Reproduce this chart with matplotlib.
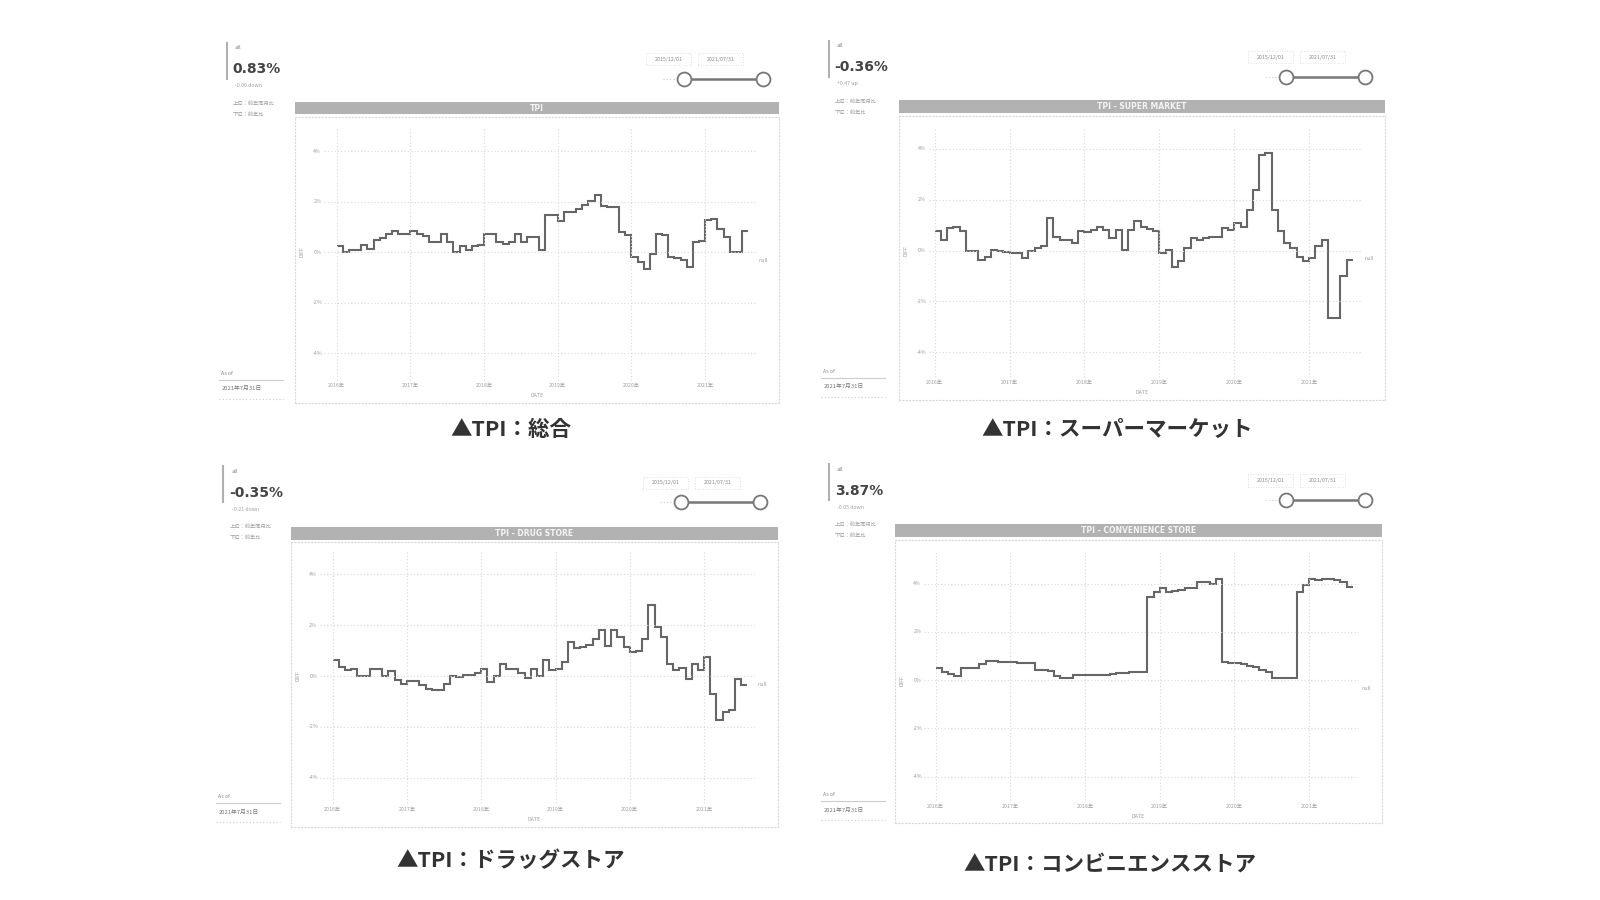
import numpy as np
import matplotlib.pyplot as plt
from matplotlib.lines import Line2D
from matplotlib.patches import Rectangle

plt.rcParams['font.family'] = ['Noto Sans CJK JP', 'DejaVu Sans']

# monthly TPI difference (%), Jan 2016 - Jul 2021
tpi_total = [0.22, 0.00, 0.07, 0.07, 0.26, 0.13, 0.46, 0.57, 0.70, 0.83,
             0.70, 0.72, 0.82, 0.70, 0.62, 0.38, 0.38, 0.72, 0.38, 0.00,
             0.22, 0.07, 0.22, 0.26, 0.70, 0.70, 0.38, 0.33, 0.38, 0.70,
             0.38, 0.59, 0.59, 0.07, 1.47, 1.47, 1.22, 1.58, 1.58, 1.71,
             1.88, 2.04, 2.24, 1.84, 1.78, 1.80, 0.79, 0.66, -0.20, -0.40,
             -0.66, -0.07, 0.72, 0.66, -0.20, -0.25, -0.30, -0.60, 0.39, 0.45,
             1.25, 1.32, 0.92, 0.60, 0.00, 0.00, 0.83]
tpi_super = [0.75, 0.42, 0.88, 0.94, 0.75, 0.00, 0.00, -0.37, -0.24, 0.03,
             0.00, -0.05, -0.08, -0.08, -0.30, 0.00, 0.09, 0.18, 1.27, 0.52,
             0.42, 0.40, 0.29, 0.75, 0.72, 0.82, 0.92, 0.82, 0.48, 0.82,
             0.03, 0.82, 1.15, 0.94, 0.84, 0.75, -0.08, 0.03, -0.63, -0.43,
             0.09, 0.48, 0.42, 0.48, 0.52, 0.55, 0.88, 0.82, 1.10, 0.94,
             1.60, 2.38, 3.76, 3.83, 1.60, 0.75, 0.29, 0.09, -0.24, -0.43,
             -0.30, 0.18, 0.42, -2.66, -2.66, -1.00, -0.36]
tpi_drug = [0.62, 0.35, 0.22, 0.29, 0.00, 0.00, 0.29, 0.29, 0.00, 0.18,
            -0.17, -0.30, -0.20, -0.20, -0.35, -0.50, -0.56, -0.56, -0.30, 0.00,
            -0.05, 0.05, 0.05, 0.10, 0.29, -0.24, 0.00, 0.48, 0.29, 0.29,
            0.10, -0.08, 0.29, 0.00, 0.62, 0.22, 0.29, 0.55, 1.34, 1.10,
            1.14, 1.23, 1.47, 1.80, 1.20, 1.80, 1.53, 1.14, 0.94, 1.00,
            1.47, 2.78, 1.93, 1.53, 0.48, 0.22, 0.30, -0.10, 0.48, 0.22,
            0.75, -0.70, -1.74, -1.42, -1.35, -0.10, -0.35]
tpi_conv = [0.51, 0.34, 0.25, 0.18, 0.51, 0.51, 0.50, 0.65, 0.80, 0.78,
            0.76, 0.76, 0.74, 0.69, 0.69, 0.72, 0.41, 0.41, 0.38, 0.18,
            0.07, 0.07, 0.23, 0.23, 0.23, 0.23, 0.23, 0.23, 0.26, 0.28,
            0.30, 0.32, 0.32, 0.32, 3.45, 3.66, 3.80, 3.66, 3.70, 3.72,
            3.80, 3.80, 4.07, 4.07, 3.98, 4.20, 0.76, 0.70, 0.69, 0.66,
            0.60, 0.53, 0.42, 0.35, 0.07, 0.07, 0.07, 0.07, 3.66, 3.93,
            4.21, 4.17, 4.20, 4.20, 4.17, 4.07, 3.87]

kpi_values = ["0.83%", "-0.36%", "-0.35%", "3.87%"]
kpi_changes = ["-0.06 down", "+0.47 up", "-0.21 down", "-0.05 down"]
chart_titles = ["TPI", "TPI - SUPER MARKET", "TPI - DRUG STORE", "TPI - CONVENIENCE STORE"]
captions = ["▲TPI：総合", "▲TPI：スーパーマーケット", "▲TPI：ドラッグストア", "▲TPI：コンビニエンスストア"]
year_labels = ["2016年", "2017年", "2018年", "2019年", "2020年", "2021年"]
y_ticks = [4, 2, 0, -2, -4]
y_tick_labels = ["4%", "2%", "0%", "-2%", "-4%"]
note_lines = ["上位：前年同月比", "下位：前年比"]
range_dates = ["2015/12/01", "2021/07/31"]
as_of_date = "2021年7月31日"

# layout in reference pixels (1568 x 882)
W, H = 1568, 882
def fx(x): return x / W
def fy(y): return 1 - y / H

panels = [
    dict(series=tpi_total, ox=222, oy=42, box=(289, 115, 763, 395), bar=(100, 112),
         x16=330, x21=691, y4=148, ym4=346, cap=(501, 421)),
    dict(series=tpi_super, ox=812, oy=40, box=(881, 114, 1357, 392), bar=(98, 111),
         x16=916, x21=1283, y4=146, ym4=345, cap=(1095, 421)),
    dict(series=tpi_drug, ox=219, oy=457, box=(285, 531, 762, 810), bar=(516, 529),
         x16=326, x21=690, y4=563, ym4=762, cap=(500, 843)),
    dict(series=tpi_conv, ox=812, oy=455, box=(877, 529, 1354, 807), bar=(514, 526),
         x16=917, x21=1283, y4=572, ym4=761, cap=(1088, 847)),
]

ink = "#666666"
light = "#a0a0a0"
grid = "#d9d9d9"
tiny = 3.8

fig = plt.figure(figsize=(16, 9), dpi=100)
fig.patch.set_facecolor("white")

for i, p in enumerate(panels):
    x0, y0, x1, y1 = p["box"]
    ppm = (p["x21"] - p["x16"]) / 60.0
    ppp = (p["ym4"] - p["y4"]) / 8.0
    yz = p["y4"] + 4 * ppp
    mx = lambda px: (px - p["x16"]) / ppm
    my = lambda py: (yz - py) / ppp

    ax = fig.add_axes([fx(x0), fy(y1), fx(x1) - fx(x0), fy(y0) - fy(y1)])
    ax.set_xlim(mx(x0), mx(x1))
    ax.set_ylim(my(y1), my(y0))
    ax.set_xticks([])
    ax.set_yticks([])
    for s in ax.spines.values():
        s.set_linestyle((0, (1, 2)))
        s.set_color(grid)
        s.set_linewidth(0.8)

    # grid
    ax.hlines(y_ticks, mx(x0 + 29), mx(x1 - 23), colors=grid, linestyles=(0, (1, 2)), lw=0.8)
    ax.vlines(np.arange(6) * 12, my(y1 - 23), my(y0 + 10), colors=grid, linestyles=(0, (1, 2)), lw=0.8)
    for t, lab in zip(y_ticks, y_tick_labels):
        ax.text(mx(x0 + 22), t, lab, fontsize=tiny, color=light, ha="center", va="center")
    for k, lab in enumerate(year_labels):
        ax.text(k * 12, my(y1 - 17), lab, fontsize=tiny, color=light, ha="center", va="center")
    ax.text((mx(x0) + mx(x1)) / 2, my(y1 - 7), "DATE", fontsize=tiny, color=light, ha="center", va="center")
    ax.text(mx(x0 + 7), 0, "DIFF", fontsize=tiny, color=light, ha="center", va="center", rotation=90)
    ax.text(mx(x1 - 15), my(yz + 8), "null", fontsize=tiny, color=light, ha="center", va="center")

    vals = np.array(p["series"])
    ax.stairs(vals, np.arange(len(vals) + 1), baseline=None, color=ink, lw=1.5)

    # title bar
    b0, b1 = p["bar"]
    fig.add_artist(Rectangle((fx(x0), fy(b1)), fx(x1) - fx(x0), fy(b0) - fy(b1),
                             transform=fig.transFigure, facecolor="#b2b2b2", edgecolor="none"))
    fig.text(fx((x0 + x1) / 2), fy((b0 + b1) / 2), chart_titles[i], fontsize=5.5, color="#f4f4f4",
             ha="center", va="center", fontweight="bold", family="DejaVu Sans")

    # KPI block
    ox, oy = p["ox"], p["oy"]
    fig.add_artist(Line2D([fx(ox), fx(ox)], [fy(oy), fy(oy + 35)], transform=fig.transFigure,
                          color="#b0b0b0", lw=1.5))
    fig.text(fx(ox + 8), fy(oy + 5), "all", fontsize=tiny + 0.5, color="#888888", va="center")
    fig.text(fx(ox + 6), fy(oy + 26), kpi_values[i], fontsize=10, color="#444444",
             fontweight="bold", va="center", family="DejaVu Sans")
    fig.text(fx(ox + 8), fy(oy + 42), kpi_changes[i], fontsize=tiny, color=light, va="center")
    for j, note in enumerate(note_lines):
        fig.text(fx(ox + 6), fy(oy + 59 + 11 * j), note, fontsize=tiny, color=light, va="center")

    # as of
    fig.text(fx(ox - 5), fy(oy + 324), "As of", fontsize=tiny, color="#888888", va="center")
    fig.add_artist(Line2D([fx(ox - 7), fx(ox + 55)], [fy(oy + 330)] * 2, transform=fig.transFigure,
                          color="#cccccc", lw=0.8))
    fig.text(fx(ox - 5), fy(oy + 339), as_of_date, fontsize=tiny + 0.4, color="#777777", va="center")
    fig.add_artist(Line2D([fx(ox - 7), fx(ox + 55)], [fy(oy + 349)] * 2, transform=fig.transFigure,
                          color="#cccccc", lw=0.8, ls=(0, (1, 2))))

    # date range slicer
    for k, d in enumerate(range_dates):
        cx = ox + 433 + 51 * k
        fig.add_artist(Rectangle((fx(cx - 22), fy(oy + 22)), fx(44), fy(0) - fy(12),
                                 transform=fig.transFigure, facecolor="white",
                                 edgecolor="#d8d8d8", lw=0.6, ls=(0, (1, 2))))
        fig.text(fx(cx), fy(oy + 16), d, fontsize=tiny, color="#888888", ha="center", va="center")
    fig.add_artist(Line2D([fx(ox + 428), fx(ox + 441)], [fy(oy + 35)] * 2, transform=fig.transFigure,
                          color="#cccccc", lw=0.8, ls=(0, (1, 2))))
    fig.add_artist(Line2D([fx(ox + 448), fx(ox + 526)], [fy(oy + 35)] * 2, transform=fig.transFigure,
                          color="#777777", lw=1.8))
    fig.add_artist(Line2D([fx(ox + 448), fx(ox + 526)], [fy(oy + 35)] * 2, transform=fig.transFigure,
                          color="#777777", lw=0, marker="o", markersize=10,
                          markerfacecolor="white", markeredgecolor="#777777", markeredgewidth=1.3))

    # caption
    fig.text(fx(p["cap"][0]), fy(p["cap"][1]), captions[i], fontsize=15.5, fontweight="bold",
             color="#333333", ha="center", va="center")

fig.savefig("out.png", dpi=100, facecolor="white")
